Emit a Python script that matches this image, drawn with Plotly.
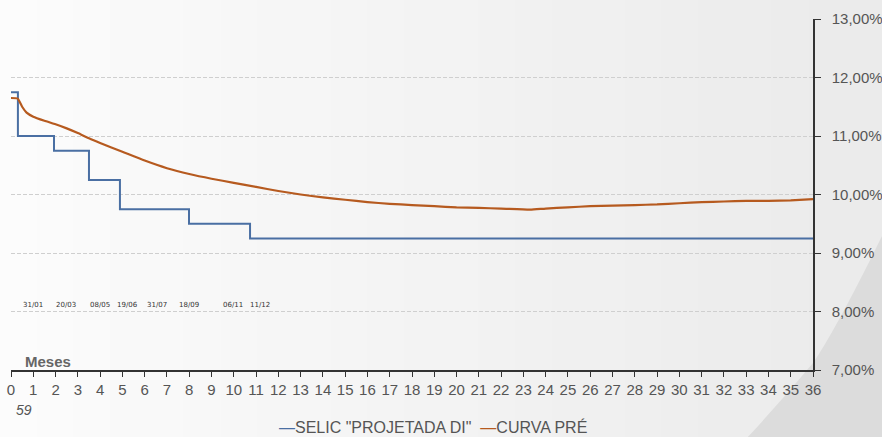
import plotly.graph_objects as go

# ---- data ----
selic_months = [0, 0.31, 1.93, 3.50, 4.89, 7.99, 10.73, 36]
selic_rates = [11.75, 11.00, 10.75, 10.25, 9.75, 9.50, 9.25, 9.25]

pre_months = [0, 0.3, 0.5, 0.7, 1.0, 1.5, 2.0, 2.5, 3.0, 3.5, 4.0, 5.0, 6.0, 7.0, 8.0,
              9.0, 10.0, 11.0, 12.0, 13.0, 14.0, 15.0, 16.0, 17.0, 18.0, 19.0, 20.0,
              21.0, 22.0, 23.3, 24.0, 25.0, 26.0, 27.0, 28.0, 29.0, 30.0, 31.0, 32.0,
              33.0, 34.0, 35.0, 36.0]
pre_rates = [11.65, 11.64, 11.50, 11.40, 11.33, 11.26, 11.20, 11.13, 11.05, 10.96, 10.88,
             10.73, 10.58, 10.45, 10.35, 10.27, 10.20, 10.13, 10.06, 10.00, 9.95, 9.91,
             9.87, 9.84, 9.82, 9.80, 9.78, 9.77, 9.76, 9.74, 9.76, 9.78, 9.80, 9.81,
             9.82, 9.83, 9.85, 9.87, 9.88, 9.89, 9.89, 9.90, 9.92]

copom_labels = ["31/01", "20/03", "08/05", "19/06", "31/07", "18/09", "06/11", "11/12"]
copom_months = [0.99, 2.47, 3.99, 5.25, 6.55, 7.99, 9.96, 11.18]
copom_level = 8.11

x_ticks = list(range(0, 37))
y_ticks = [7, 8, 9, 10, 11, 12, 13]
y_tick_labels = ["7,00%", "8,00%", "9,00%", "10,00%", "11,00%", "12,00%", "13,00%"]

series_names = ['SELIC "PROJETADA DI"', "CURVA PRÉ"]
BLUE = "#4a6fa3"
ORANGE = "#b65a1f"
FONT = "Arial, Liberation Sans, sans-serif"

fig = go.Figure()

fig.add_trace(go.Scatter(x=selic_months, y=selic_rates, mode="lines", line_shape="hv",
                         line=dict(color=BLUE, width=2), name=series_names[0],
                         showlegend=False))
fig.add_trace(go.Scatter(x=pre_months, y=pre_rates, mode="lines", line_shape="spline",
                         line=dict(color=ORANGE, width=2.2, smoothing=0.5),
                         name=series_names[1], showlegend=False))

# background gradient strips (decoration)
shapes = []
n = 24
for i in range(n):
    t = i / (n - 1)
    c = int(252 - t * 17)
    x0 = -11 / 802 + i * (882 / 802) / n
    x1 = -11 / 802 + (i + 1) * (882 / 802) / n + 0.002
    shapes.append(dict(type="rect", xref="paper", yref="paper", x0=x0, x1=x1,
                       y0=-0.2, y1=1.06, fillcolor=f"rgb({c},{c},{c})",
                       line=dict(width=0), layer="below"))
# diagonal curved shape bottom-right
shapes.append(dict(type="path", xref="paper", yref="paper",
                   path="M 1.09 0.40 Q 1.03 0.12 1.0 0.02 Q 0.96 -0.09 0.915 -0.2 L 1.09 -0.2 Z",
                   fillcolor="rgb(220,220,220)", line=dict(width=0), layer="below"))
fig.update_layout(shapes=shapes)

annotations = []
for lab, m in zip(copom_labels, copom_months):
    annotations.append(dict(x=m, y=copom_level, text=lab, showarrow=False,
                            font=dict(family="DejaVu Sans", size=7, color="#333333"),
                            xanchor="center", yanchor="middle"))
annotations.append(dict(xref="paper", yref="paper", x=(48 - 11) / 802, y=(370 - 361) / 351,
                        text="<b>Meses</b>", showarrow=False,
                        font=dict(family=FONT, size=15, color="#666666"),
                        xanchor="center", yanchor="middle"))
annotations.append(dict(xref="paper", yref="paper", x=(24 - 11) / 802, y=(370 - 410) / 351,
                        text="<i>59</i>", showarrow=False,
                        font=dict(family=FONT, size=14, color="#555555"),
                        xanchor="center", yanchor="middle"))
legend_text = (f"<span style='color:{BLUE}'>—</span>{series_names[0]}"
               f"  <span style='color:{ORANGE}'>—</span>{series_names[1]}")
annotations.append(dict(xref="paper", yref="paper", x=(277 - 11) / 802, y=(370 - 427) / 351,
                        text=legend_text, showarrow=False,
                        font=dict(family=FONT, size=16, color="#555555"),
                        xanchor="left", yanchor="middle"))

fig.update_layout(
    width=882, height=437,
    margin=dict(l=11, r=69, t=19, b=67, autoexpand=False),
    paper_bgcolor="#f6f6f6",
    plot_bgcolor="rgba(0,0,0,0)",
    annotations=annotations,
    font=dict(family=FONT, color="#555555"),
    xaxis=dict(range=[0, 36], tickvals=x_ticks, showgrid=False, zeroline=False,
               showline=True, linecolor="#333333", linewidth=1.5, automargin=False,
               ticks="outside", ticklen=5, tickcolor="#333333", tickwidth=1,
               tickfont=dict(family=FONT, size=15, color="#555555")),
    yaxis=dict(range=[7, 13], side="right", tickvals=y_ticks, ticktext=y_tick_labels,
               showgrid=True, gridcolor="#cfcfcf", griddash="4px,2px",
               gridwidth=1, zeroline=False, showline=True, linecolor="#333333",
               linewidth=1.5, ticks="outside", ticklen=6, tickcolor="#333333",
               ticklabelstandoff=8, automargin=False,
               tickfont=dict(family=FONT, size=15, color="#555555")),
)

fig.write_html("out.html")
